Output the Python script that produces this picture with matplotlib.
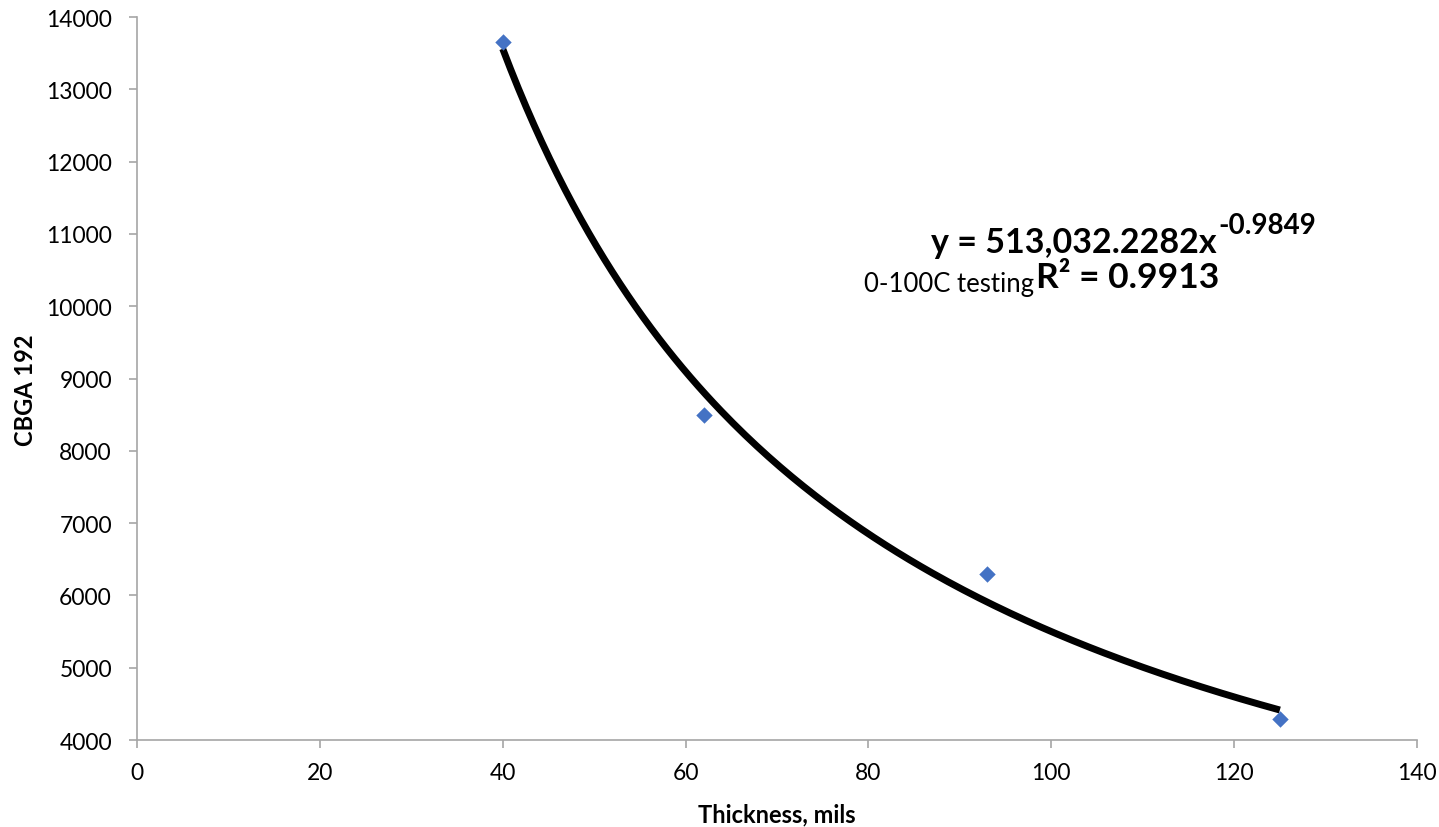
import numpy as np
import matplotlib
matplotlib.use("Agg")
import matplotlib.pyplot as plt

plt.rcParams['font.family'] = ['Lato', 'DejaVu Sans']

# measured points
thickness = [40, 62, 93, 125]
cbga = [13650, 8500, 6290, 4285]

# power trendline as reported in the chart
coef_a = 513032.2282
coef_b = -0.9849
r_squared = 0.9913

x_ticks = [0, 20, 40, 60, 80, 100, 120, 140]
y_ticks = [4000, 5000, 6000, 7000, 8000, 9000, 10000, 11000, 12000, 13000, 14000]

W, H = 1439, 828
fig = plt.figure(figsize=(W / 100, H / 100), dpi=100)
ax = fig.add_axes([137 / W, 1 - 741 / H, (1417 - 137) / W, (741 - 18) / H])

# trendline
xs = np.linspace(min(thickness), max(thickness), 200)
ax.plot(xs, coef_a * xs ** coef_b, color='black', lw=5, solid_capstyle='butt', zorder=2)

ax.scatter(thickness, cbga, marker='D', s=70, color='#4472C4', zorder=3, linewidths=0)

ax.set_xlim(0, 140)
ax.set_ylim(4000, 14000)
ax.set_xticks(x_ticks)
ax.set_yticks(y_ticks)

for side in ['top', 'right']:
    ax.spines[side].set_visible(False)
for side in ['left', 'bottom']:
    ax.spines[side].set_color('#a6a6a6')
    ax.spines[side].set_linewidth(1.2)
ax.tick_params(axis='both', direction='out', length=6, width=1.2, color='#a6a6a6',
               labelsize=16.5)
ax.tick_params(axis='x', pad=10)
ax.tick_params(axis='y', pad=12)

ax.set_xlabel('Thickness, mils', fontsize=17, fontweight='bold')
ax.xaxis.label.set_va('baseline')
ax.xaxis.set_label_coords(0.5, -(822 - 741) / 723)
ax.set_ylabel('CBGA 192', fontsize=17, fontweight='bold')
ax.yaxis.set_label_coords((37 - 137) / 1280, 1 - (390 - 18) / 723)

# equation labels
eq = fig.text(931 / W, 1 - 253 / H, 'y = 513,032.2282x', fontsize=24.5, fontweight='bold',
              ha='left', va='baseline')
ax.annotate('%.4f' % coef_b, xy=(1, 1 - 234 / H), xycoords=(eq, 'figure fraction'),
            xytext=(2, 0), textcoords='offset pixels', fontsize=20, fontweight='bold',
            ha='left', va='baseline')
r2 = fig.text(1036 / W, 1 - 288 / H, 'R² = %.4f' % r_squared, fontsize=25.5,
              fontweight='bold', ha='left', va='baseline')
ax.annotate('0-100C testing', xy=(0, 1 - 292 / H), xycoords=(r2, 'figure fraction'),
            xytext=(-2, 0), textcoords='offset pixels', fontsize=18.5,
            ha='right', va='baseline')

fig.savefig('out.png', dpi=100)
